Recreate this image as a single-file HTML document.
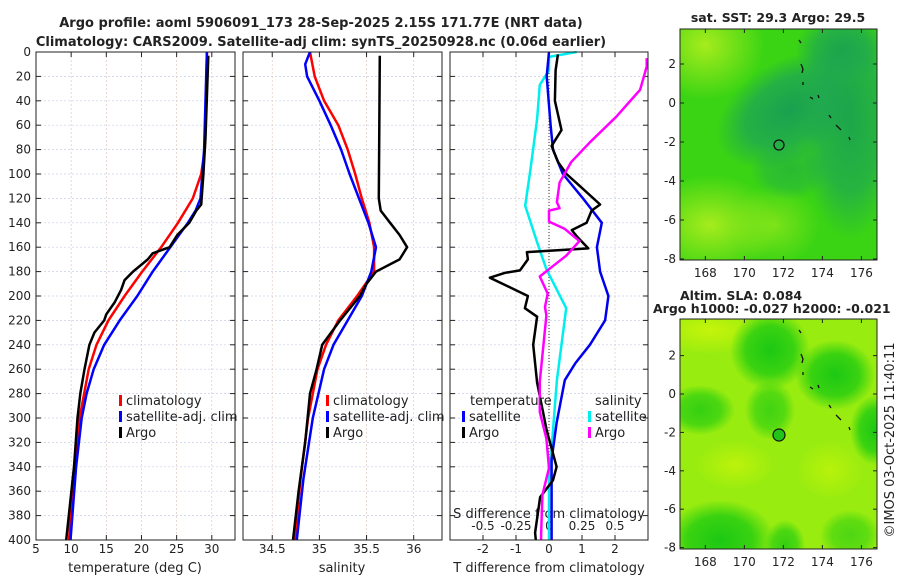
<!DOCTYPE html>
<html><head><meta charset="utf-8">
<style>
body{margin:0;background:#fff;}
svg text{font-family:"DejaVu Sans","Liberation Sans",sans-serif;fill:#222;}
</style></head>
<body>
<svg id="fig" width="900" height="580" viewBox="0 0 900 580" xmlns="http://www.w3.org/2000/svg">
<defs>
<radialGradient id="g1"><stop offset="0" stop-color="#a6ec1c" stop-opacity="1"/><stop offset="1" stop-color="#a6ec1c" stop-opacity="0"/></radialGradient>
<radialGradient id="g2"><stop offset="0" stop-color="#1aa050" stop-opacity="1"/><stop offset="0.6" stop-color="#1fa850" stop-opacity="0.8"/><stop offset="1" stop-color="#1fa850" stop-opacity="0"/></radialGradient>
<radialGradient id="g3"><stop offset="0" stop-color="#1cc814" stop-opacity="1"/><stop offset="0.6" stop-color="#22cc11" stop-opacity="0.8"/><stop offset="1" stop-color="#22cc11" stop-opacity="0"/></radialGradient>
<radialGradient id="g4"><stop offset="0" stop-color="#c6f40a" stop-opacity="1"/><stop offset="1" stop-color="#c6f40a" stop-opacity="0"/></radialGradient>
<clipPath id="c1"><rect x="680" y="29" width="197" height="231"/></clipPath>
<clipPath id="c2"><rect x="680" y="319" width="197" height="230"/></clipPath>
</defs>
<text x="321" y="27" text-anchor="middle" font-size="13" font-weight="bold">Argo profile: aoml 5906091_173 28-Sep-2025 2.15S 171.77E (NRT data)</text>
<text x="321" y="46" text-anchor="middle" font-size="13" font-weight="bold">Climatology: CARS2009. Satellite-adj clim: synTS_20250928.nc (0.06d earlier)</text>

<!-- Map 1 -->
<g>
<rect x="680" y="29" width="197" height="231" fill="#3ad414"/>
<g clip-path="url(#c1)">
<ellipse cx="705" cy="45" rx="60" ry="55" fill="url(#g1)"/>
<ellipse cx="710" cy="225" rx="70" ry="50" fill="url(#g1)"/>
<ellipse cx="775" cy="225" rx="45" ry="40" fill="url(#g1)" opacity="0.6"/>
<ellipse cx="790" cy="110" rx="80" ry="50" fill="url(#g2)" transform="rotate(-30 790 110)"/>
<ellipse cx="850" cy="120" rx="50" ry="120" fill="url(#g2)" opacity="0.9"/>
<ellipse cx="840" cy="50" rx="45" ry="35" fill="url(#g2)" opacity="0.8"/>
<ellipse cx="790" cy="170" rx="40" ry="30" fill="url(#g2)" opacity="0.5"/>
</g>
<rect x="680" y="29" width="197" height="231" fill="none" stroke="#222" stroke-width="1"/>
<circle cx="779" cy="145" r="5" fill="none" stroke="#111" stroke-width="1.3"/>
<path d="M799 40l2 3M801 64l2 5l-1 4M803 82l0 3M810 97l3 2M818 95l1 3M829 115l2 3M836 125l5 5M849 137l1 3" stroke="#111" stroke-width="1.3" fill="none"/>
<text x="778" y="22" text-anchor="middle" font-size="12.5" font-weight="bold">sat. SST: 29.3 Argo: 29.5</text>
<g id="m1ticks"></g>
</g>

<!-- Map 2 -->
<g>
<rect x="680" y="319" width="197" height="230" fill="#98ec10"/>
<g clip-path="url(#c2)">
<ellipse cx="710" cy="330" rx="60" ry="25" fill="url(#g4)"/>
<ellipse cx="770" cy="350" rx="40" ry="40" fill="url(#g3)"/>
<ellipse cx="835" cy="375" rx="40" ry="35" fill="url(#g3)"/>
<ellipse cx="770" cy="410" rx="25" ry="30" fill="url(#g3)" opacity="0.7"/>
<ellipse cx="700" cy="410" rx="35" ry="25" fill="url(#g3)" opacity="0.8"/>
<ellipse cx="875" cy="430" rx="25" ry="35" fill="url(#g3)"/>
<ellipse cx="735" cy="465" rx="40" ry="25" fill="url(#g4)" opacity="0.8"/>
<ellipse cx="830" cy="470" rx="35" ry="30" fill="url(#g4)" opacity="0.7"/>
<ellipse cx="720" cy="540" rx="55" ry="40" fill="url(#g3)"/>
<ellipse cx="785" cy="545" rx="20" ry="25" fill="url(#g3)" opacity="0.8"/>
<ellipse cx="850" cy="535" rx="30" ry="25" fill="url(#g3)" opacity="0.6"/>
</g>
<rect x="680" y="319" width="197" height="230" fill="none" stroke="#222" stroke-width="1"/>
<circle cx="779" cy="435" r="6" fill="#22c41a" stroke="#111" stroke-width="1.2"/>
<path d="M799 330l2 3M801 354l2 5l-1 4M803 372l0 3M810 387l3 2M818 385l1 3M829 405l2 3M836 415l5 5M849 427l1 3" stroke="#111" stroke-width="1.3" fill="none"/>
<text x="680" y="300" font-size="12.5" font-weight="bold">Altim. SLA: 0.084</text>
<text x="653" y="313" font-size="12.5" font-weight="bold">Argo h1000: -0.027 h2000: -0.021</text>
<g id="m2ticks"></g>
</g>
<text transform="translate(894,440) rotate(-90)" text-anchor="middle" font-size="13">©IMOS 03-Oct-2025 11:40:11</text>

<g id="panels"></g>
</svg>
<script>
// ---- Data (depth in dbar) ----
const depthTicks=[0,20,40,60,80,100,120,140,160,180,200,220,240,260,280,300,320,340,360,380,400];
const tTicks=[5,10,15,20,25,30];
const sTicks=[34.5,35,35.5,36];
const dTTicks=[-2,-1,0,1,2];
const dSTicks=[-0.5,-0.25,0,0.25,0.5];
const dSLabels=["-0.5","-0.25","0","0.25","0.5"];

const climTdep=[0,80,100,120,140,160,180,200,220,240,260,300,350,400];
const climT=[29.3,29,28.5,27.3,25.2,22.8,20.1,17.6,15.3,13.6,12.5,11.2,10.3,9.7];
const satTdep=[0,80,120,130,140,160,180,200,220,240,260,280,300,340,400];
const satT=[29.3,28.9,28.4,27.7,26.6,24.1,21.6,19.4,16.9,14.7,13.2,12.2,11.5,10.7,9.9];
const argoTdep=[3,70,100,125,130,140,150,160,165,170,180,187,195,205,215,220,230,240,260,280,300,340,400];
const argoT=[29.5,29.1,28.8,28.5,27.8,26.8,25.1,24.0,21.6,20.9,18.8,17.6,17.1,16.2,15.0,14.7,13.3,12.6,11.9,11.3,10.9,10.4,9.3];

const climSdep=[0,20,40,60,80,100,120,140,160,180,200,220,240,260,300,350,400];
const climS=[34.9,34.95,35.05,35.2,35.3,35.38,35.45,35.53,35.58,35.58,35.4,35.2,35.07,34.98,34.88,34.8,34.74];
const satSdep=[0,10,20,40,60,80,100,120,140,160,180,200,220,240,260,300,350,400];
const satS=[34.9,34.85,34.87,35.0,35.12,35.23,35.32,35.42,35.52,35.6,35.55,35.45,35.3,35.15,35.05,34.93,34.83,34.76];
const argoSdep=[3,120,130,140,150,160,170,180,190,200,220,240,260,280,320,360,400];
const argoS=[35.64,35.63,35.65,35.75,35.85,35.93,35.85,35.6,35.5,35.43,35.22,35.03,34.97,34.9,34.85,34.78,34.72];

const dTargoDep=[2,15,40,64,77,90,100,110,125,130,140,146,151,161,164,170,179,181,185,200,210,217,240,271,310,340,351,365,394,400];
const dTargo=[0.27,0.2,0.18,0.38,0.08,0.27,0.53,0.94,1.55,1.29,1.14,0.69,0.84,1.19,-0.67,-0.64,-0.88,-1.33,-1.79,-0.64,-0.73,-0.36,-0.48,-0.36,-0.07,0.23,0.12,-0.27,-0.42,-0.4];
const dTsatDep=[0,20,60,80,100,120,140,160,180,200,220,240,255,269,304,334,397,400];
const dTsat=[0,-0.07,0.05,0.12,0.42,1.03,1.6,1.45,1.55,1.8,1.7,1.24,0.8,0.48,0.23,0.08,0.08,0.08];
const dSsatDep=[0,4,15,27,55,96,126,156,178,210,269,310,351,397,400];
const dSsat=[0.21,0,0,-0.07,-0.09,-0.14,-0.18,-0.09,-0.02,0.13,0.06,0.03,0,0,0];
const dSargoDep=[5,12,31,53,74,90,107,123,128,130,139,145,155,167,178,184,198,209,216,270,295,317,341,363,396,400];
const dSargo=[0.74,0.74,0.69,0.51,0.31,0.17,0.08,0.06,0.08,0,0,0.12,0.23,0.13,0,-0.07,-0.01,-0.03,-0.02,-0.07,-0.07,-0.02,0,-0.05,-0.06,-0.06];

const mapLonTicks=[168,170,172,174,176];
const mapLatTicks=[2,0,-2,-4,-6,-8];

const NS="http://www.w3.org/2000/svg";
const root=document.getElementById('panels');
function el(tag,attrs,parent){const e=document.createElementNS(NS,tag);for(const k in attrs)e.setAttribute(k,attrs[k]);(parent||root).appendChild(e);return e;}
const Y0=52,Y1=540;
const yD=d=>Y0+(d/400)*(Y1-Y0);

function panel(x0,x1,dmin,dmax,name){
  const g=el('g',{});
  
  
  const sx=v=>x0+(v-dmin)/(dmax-dmin)*(x1-x0);
  return {g,sx};
}
function grid(p,x0,x1,ticks,labels,labelY){
  depthTicks.forEach(d=>{
    const y=yD(d);
    if(d>0&&d<400){const l=el('line',{x1:x0,x2:x1,y1:y,y2:y,stroke:'#c8cde8','stroke-width':0.7,'stroke-dasharray':'2,2'},p.g);
      }
    el('line',{x1:x0,x2:x0+5,y1:y,y2:y,stroke:'#222'},p.g);
    el('line',{x1:x1-5,x2:x1,y1:y,y2:y,stroke:'#222'},p.g);
  });
  ticks.forEach((v,i)=>{
    const x=p.sx(v);
    const l=el('line',{x1:x,x2:x,y1:Y0,y2:Y1,stroke:'#e0c8c0','stroke-width':0.7,'stroke-dasharray':'2,2'},p.g);
    
    el('line',{x1:x,x2:x,y1:Y1,y2:Y1-5,stroke:'#222'},p.g);
    el('line',{x1:x,x2:x,y1:Y0,y2:Y0+5,stroke:'#222'},p.g);
    const t=el('text',{x:x,y:labelY,'text-anchor':'middle','font-size':12},p.g);
    t.textContent=labels?labels[i]:String(v);
    
  });
}
function frame(p,x0,x1){const r=el('rect',{x:x0,y:Y0,width:x1-x0,height:Y1-Y0,fill:'none',stroke:'#222','stroke-width':1},p.g);
  }
function line(p,sx,deps,vals,color,w,name){
  const d=deps.map((dp,i)=>(i?'L':'M')+sx(vals[i]).toFixed(1)+' '+yD(dp).toFixed(1)).join('');
  const e=el('path',{d:d,fill:'none',stroke:color,'stroke-width':w,'stroke-linejoin':'round'},p.g);
  
  
}
function text(p,x,y,s,opts,name){const t=el('text',Object.assign({x:x,y:y,'font-size':13},opts||{}),p.g);t.textContent=s;
  return t;}
function legendItem(p,x,y,color,label,name){
  const r=el('rect',{x:x,y:y-10,width:3,height:11,fill:color},p.g);
  
  text(p,x+7,y,label,{},name);
}

// Panel 1 temperature
const p1=panel(36,235,5,33.3,'temperature-panel');
grid(p1,36,235,tTicks,null,553);
depthTicks.forEach(d=>{const t=el('text',{x:31,y:yD(d)+4,'text-anchor':'end','font-size':12},p1.g);t.textContent=d;
  });
line(p1,p1.sx,climTdep,climT,'#ff0000',2.5,'climatology-temperature-line');
line(p1,p1.sx,satTdep,satT,'#0000ff',2.5,'satellite-temperature-line');
line(p1,p1.sx,argoTdep,argoT,'#000000',2.5,'argo-temperature-line');
frame(p1,36,235);
legendItem(p1,119,405,'#ff0000','climatology','legend-climatology');
legendItem(p1,119,421,'#0000ff','satellite-adj. clim','legend-satellite');
legendItem(p1,119,437,'#000000','Argo','legend-argo');
text(p1,135,572,'temperature (deg C)',{'text-anchor':'middle'},'x-axis-title-temperature');

// Panel 2 salinity
const p2=panel(243,442,34.19,36.30,'salinity-panel');
grid(p2,243,442,sTicks,null,553);
line(p2,p2.sx,climSdep,climS,'#ff0000',2.5,'climatology-salinity-line');
line(p2,p2.sx,satSdep,satS,'#0000ff',2.5,'satellite-salinity-line');
line(p2,p2.sx,argoSdep,argoS,'#000000',2.5,'argo-salinity-line');
frame(p2,243,442);
legendItem(p2,326,405,'#ff0000','climatology','legend-climatology');
legendItem(p2,326,421,'#0000ff','satellite-adj. clim','legend-satellite');
legendItem(p2,326,437,'#000000','Argo','legend-argo');
text(p2,342,572,'salinity',{'text-anchor':'middle'},'x-axis-title-salinity');

// Panel 3 differences
const p3=panel(450,648,-3,3,'difference-panel');
grid(p3,450,648,dTTicks,null,553);
const sxS=v=>p3.sx(v*4);
dSTicks.forEach((v,i)=>{const t=el('text',{x:sxS(v),y:530,'text-anchor':'middle','font-size':12},p3.g);t.textContent=dSLabels[i];
  });
text(p3,549,518,'S difference from climatology',{'text-anchor':'middle'},'s-diff-axis-title');
const z=el('line',{x1:p3.sx(0),x2:p3.sx(0),y1:Y0,y2:Y1,stroke:'#333','stroke-width':1,'stroke-dasharray':'1,2'},p3.g);

line(p3,sxS,dSsatDep,dSsat,'#00eeee',2.5,'salinity-satellite-diff-line');
line(p3,p3.sx,dTsatDep,dTsat,'#0000ee',2.5,'temperature-satellite-diff-line');
line(p3,p3.sx,dTargoDep,dTargo,'#000000',2.5,'temperature-argo-diff-line');
line(p3,sxS,dSargoDep,dSargo,'#ff00ff',2.5,'salinity-argo-diff-line');
frame(p3,450,648);
text(p3,470,405,'temperature',{},'legend-temperature-heading');
legendItem(p3,462,421,'#0000ff','satellite','legend-t-satellite');
legendItem(p3,462,437,'#000000','Argo','legend-t-argo');
text(p3,595,405,'salinity',{},'legend-salinity-heading');
legendItem(p3,588,421,'#00eeee','satellite','legend-s-satellite');
legendItem(p3,588,437,'#ff00ff','Argo','legend-s-argo');
text(p3,549,572,'T difference from climatology',{'text-anchor':'middle'},'x-axis-title-t-diff');

// Map ticks
function mapTicks(gid,top,bottom,lat2y){
  const g=document.getElementById(gid);
  mapLonTicks.forEach(v=>{const x=680+(v-166.7)/10.1*197;
    el('line',{x1:x,x2:x,y1:bottom,y2:bottom-4,stroke:'#222'},g);
    el('line',{x1:x,x2:x,y1:top,y2:top+4,stroke:'#222'},g);
    const t=el('text',{x:x,y:bottom+17,'text-anchor':'middle','font-size':12},g);t.textContent=v;
    });
  mapLatTicks.forEach(v=>{const y=lat2y(v);
    el('line',{x1:680,x2:684,y1:y,y2:y,stroke:'#222'},g);
    el('line',{x1:873,x2:877,y1:y,y2:y,stroke:'#222'},g);
    const t=el('text',{x:676,y:y+4,'text-anchor':'end','font-size':12},g);t.textContent=v;
    });
}
mapTicks('m1ticks',29,260,v=>103-v*19.5);
mapTicks('m2ticks',319,549,v=>394-v*19.2);
</script>
</body></html>
